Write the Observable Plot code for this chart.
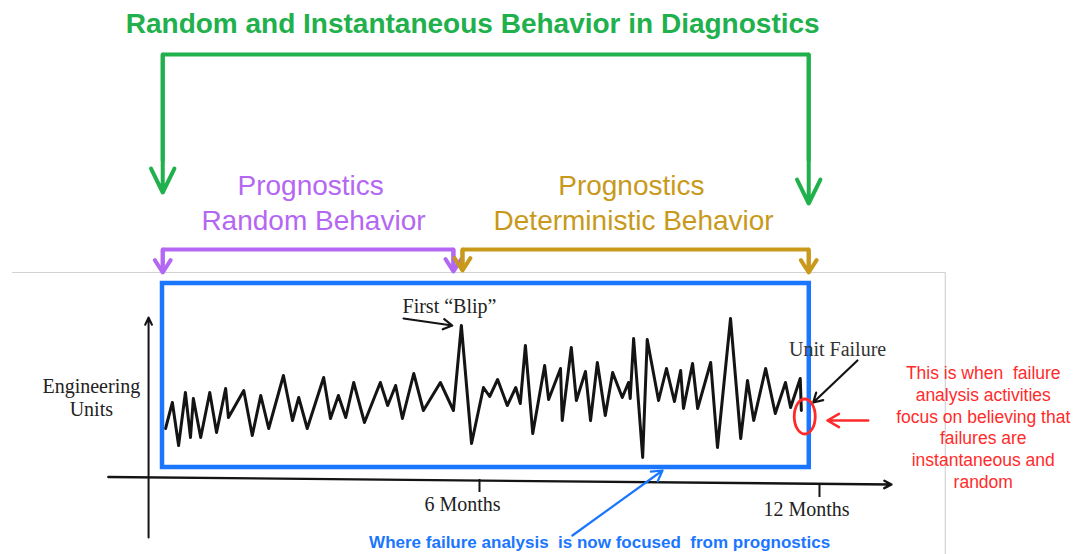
<!DOCTYPE html>
<html><head><meta charset="utf-8">
<script src="https://cdn.jsdelivr.net/npm/d3@7"></script>
<script src="https://cdn.jsdelivr.net/npm/@observablehq/plot@0.6"></script>
<style>
html,body{margin:0;padding:0;background:#fff;}
#chart svg{display:block;}
#chart text{white-space:pre;}
</style></head><body><div id="chart"></div>
<script>
// ---- data ----
const months = [0.46,0.58,0.69,0.81,0.90,0.95,1.08,1.24,1.36,1.52,
  1.57,1.84,1.99,2.14,2.28,2.54,2.70,2.81,2.96,3.25,
  3.37,3.51,3.64,3.78,3.97,4.25,4.38,4.52,4.64,4.84,
  5.01,5.31,5.54,5.68,5.86,6.07,6.18,6.32,6.49,6.64,
  6.72,6.81,6.94,7.15,7.22,7.43,7.46,7.62,7.71,7.87,
  7.96,8.08,8.22,8.35,8.52,8.63,8.66,8.72,8.88,8.96,
  9.16,9.30,9.44,9.55,9.60,9.76,9.85,10.08,10.20,10.43,
  10.61,10.73,10.84,11.05,11.22,11.40,11.49,11.66,11.68];
const units = [5.2,7.8,3.5,8.8,4.3,8.2,4.3,8.8,4.8,9.2,
  6.3,9.0,4.5,8.5,5.2,10.5,6.0,8.3,5.2,10.3,
  6.2,8.5,6.3,9.8,5.8,9.8,7.5,9.5,6.2,10.7,
  7.0,9.8,7.0,15.5,3.7,9.3,8.4,10.1,7.5,9.3,
  7.7,13.5,4.7,11.5,8.1,11.2,6.0,13.3,8.0,10.9,
  6.0,11.8,6.5,10.8,8.3,9.8,8.2,14.2,2.3,14.1,
  8.0,11.2,7.9,11.0,7.2,11.7,7.2,11.8,3.3,16.2,
  4.2,10.0,6.0,11.2,6.7,9.8,7.3,10.2,7.0];
const tickMonths = [6, 12];
const tickLabels = ["6 Months", "12 Months"];
const titleText = "Random and Instantaneous Behavior in Diagnostics";
const randomPhase = ["Prognostics", "Random Behavior"];
const deterministicPhase = ["Prognostics", "Deterministic Behavior"];
const yAxisLabel = ["Engineering", "Units"];
const blipLabel = "First \u201CBlip\u201D";
const failureLabel = "Unit Failure";
const noteLines = ["This is when  failure", "analysis activities", "focus on believing that", "failures are", "instantaneous and", "random"];
const captionText = "Where failure analysis  is now focused  from prognostics";

const signal = months.map((m, i) => ({month: m, value: units[i]}));

// ---- styles ----
const SANS = "Liberation Sans, Arial, sans-serif";
const SERIF = "Liberation Serif, Times New Roman, serif";
const GREEN = "#20b04c", PURPLE = "#b467f2", GOLD = "#c8991b", BLUE = "#1a76ff", RED = "#ff2b2b", INK = "#141414";

const ellipseSymbol = {
  draw(context) {
    const rx = 10.5, ry = 17.5, k = 0.5523;
    context.moveTo(rx, 0);
    context.bezierCurveTo(rx, ry * k, rx * k, ry, 0, ry);
    context.bezierCurveTo(-rx * k, ry, -rx, ry * k, -rx, 0);
    context.bezierCurveTo(-rx, -ry * k, -rx * k, -ry, 0, -ry);
    context.bezierCurveTo(rx * k, -ry, rx, -ry * k, rx, 0);
    context.closePath();
  }
};
const seg = (x1, y1, x2, y2) => [{x1, y1, x2, y2}];
const A = {x1: "x1", y1: "y1", x2: "x2", y2: "y2"};
const pts = (...p) => p.map(([x, y]) => ({x, y}));

const chart = Plot.plot({
  width: 1078, height: 554, margin: 0,
  x: {domain: [-2.453, 16.571], axis: null},
  y: {domain: [-7.4, 48], axis: null},
  style: {background: "#fff"},
  marks: [
    // panel frame of the original figure
    Plot.line(pts([-2.24, 20.8], [14.22, 20.8], [14.22, -7.4]), {x: "x", y: "y", stroke: "#d2d2d2", strokeWidth: 1.2}),
    // axes
    Plot.arrow(seg(0.16, -5.7, 0.16, 16.3), {...A, stroke: INK, strokeWidth: 2, headLength: 6, headAngle: 50}),
    Plot.arrow(seg(-0.55, 0.35, 13.27, -0.4), {...A, stroke: INK, strokeWidth: 2.4, headLength: 5, headAngle: 55}),
    Plot.ruleX([tickMonths[0]], {y1: 0.1, y2: -1.2, stroke: INK, strokeWidth: 2}),
    Plot.ruleX([tickMonths[1]], {y1: -0.35, y2: -1.7, stroke: INK, strokeWidth: 2}),
    Plot.text(tickLabels, {x: [5.70, 11.77], y: [-2.4, -2.9], fontFamily: SERIF, fontSize: 20, fill: "#222"}),
    Plot.text(yAxisLabel, {x: -0.85, y: [9.4, 7.1], fontFamily: SERIF, fontSize: 20, fill: "#222"}),
    // signal
    Plot.line(signal, {x: "month", y: "value", stroke: INK, strokeWidth: 3, strokeLinejoin: "round"}),
    // focus box
    Plot.rect([{}], {x1: 0.406, x2: 11.82, y1: 1.3, y2: 19.7, fill: "none", stroke: BLUE, strokeWidth: 4.5}),
    // annotations on the signal
    Plot.text([blipLabel], {x: 5.47, y: 17.4, fontFamily: SERIF, fontSize: 20, fill: "#222"}),
    Plot.arrow(seg(4.66, 16.2, 5.52, 15.5), {...A, stroke: INK, strokeWidth: 2.2, headLength: 7}),
    Plot.text([failureLabel], {x: 12.32, y: 13.1, fontFamily: SERIF, fontSize: 20, fill: "#333"}),
    Plot.arrow(seg(12.67, 12.0, 11.89, 7.8), {...A, stroke: INK, strokeWidth: 2.2, headLength: 7}),
    Plot.dot([{x: 11.74, y: 6.4}], {x: "x", y: "y", symbol: ellipseSymbol, stroke: RED, strokeWidth: 2.8, fill: "none"}),
    Plot.arrow(seg(12.86, 6.0, 12.14, 6.0), {...A, stroke: RED, strokeWidth: 2.5, headLength: 8}),
    Plot.text(noteLines, {x: 14.89, y: [10.7, 8.5, 6.3, 4.2, 2.0, -0.2], fontFamily: SANS, fontSize: 17.5, fill: RED}),
    // caption pointer
    Plot.arrow(seg(7.64, -5.5, 9.23, 1.0), {...A, stroke: BLUE, strokeWidth: 2.2, headLength: 8}),
    Plot.text([captionText], {x: 8.12, y: -6.2, fontFamily: SANS, fontSize: 17, fontWeight: "bold", fill: BLUE}),
    // green diagnostics bracket
    Plot.text([titleText], {x: 5.88, y: 45.6, fontFamily: SANS, fontSize: 28, fontWeight: "bold", fill: GREEN}),
    Plot.line(pts([0.41, 32], [0.41, 42.6], [11.81, 42.6], [11.81, 32]), {x: "x", y: "y", stroke: GREEN, strokeWidth: 4, strokeLinejoin: "miter"}),
    Plot.arrow(seg(0.41, 42.6, 0.41, 28.8), {...A, stroke: GREEN, strokeWidth: 4, headLength: 10, headAngle: 52}),
    Plot.arrow(seg(11.81, 42.6, 11.81, 27.7), {...A, stroke: GREEN, strokeWidth: 4, headLength: 10, headAngle: 52}),
    // prognostics phases
    Plot.text(randomPhase, {x: [3.02, 3.07], y: [29.4, 25.9], fontFamily: SANS, fontSize: 28, fill: PURPLE}),
    Plot.text(deterministicPhase, {x: [8.68, 8.72], y: [29.4, 25.9], fontFamily: SANS, fontSize: 28, fill: GOLD}),
    Plot.line(pts([0.41, 21.6], [0.41, 23.1], [5.54, 23.1], [5.54, 21.6]), {x: "x", y: "y", stroke: PURPLE, strokeWidth: 4, strokeLinejoin: "miter"}),
    Plot.arrow(seg(0.41, 26.0, 0.41, 20.8), {...A, stroke: PURPLE, strokeWidth: 4, headLength: 5.5, headAngle: 65, insetStart: 29}),
    Plot.arrow(seg(5.54, 26.0, 5.54, 20.9), {...A, stroke: PURPLE, strokeWidth: 4, headLength: 5.5, headAngle: 65, insetStart: 29}),
    Plot.line(pts([5.70, 21.6], [5.70, 23.1], [11.81, 23.1], [11.81, 21.6]), {x: "x", y: "y", stroke: GOLD, strokeWidth: 4, strokeLinejoin: "miter"}),
    Plot.arrow(seg(5.70, 26.0, 5.70, 21.0), {...A, stroke: GOLD, strokeWidth: 4, headLength: 5.5, headAngle: 65, insetStart: 29}),
    Plot.arrow(seg(11.81, 26.0, 11.81, 20.8), {...A, stroke: GOLD, strokeWidth: 4, headLength: 5.5, headAngle: 65, insetStart: 29})
  ]
});
document.getElementById("chart").append(chart);
</script></body></html>
